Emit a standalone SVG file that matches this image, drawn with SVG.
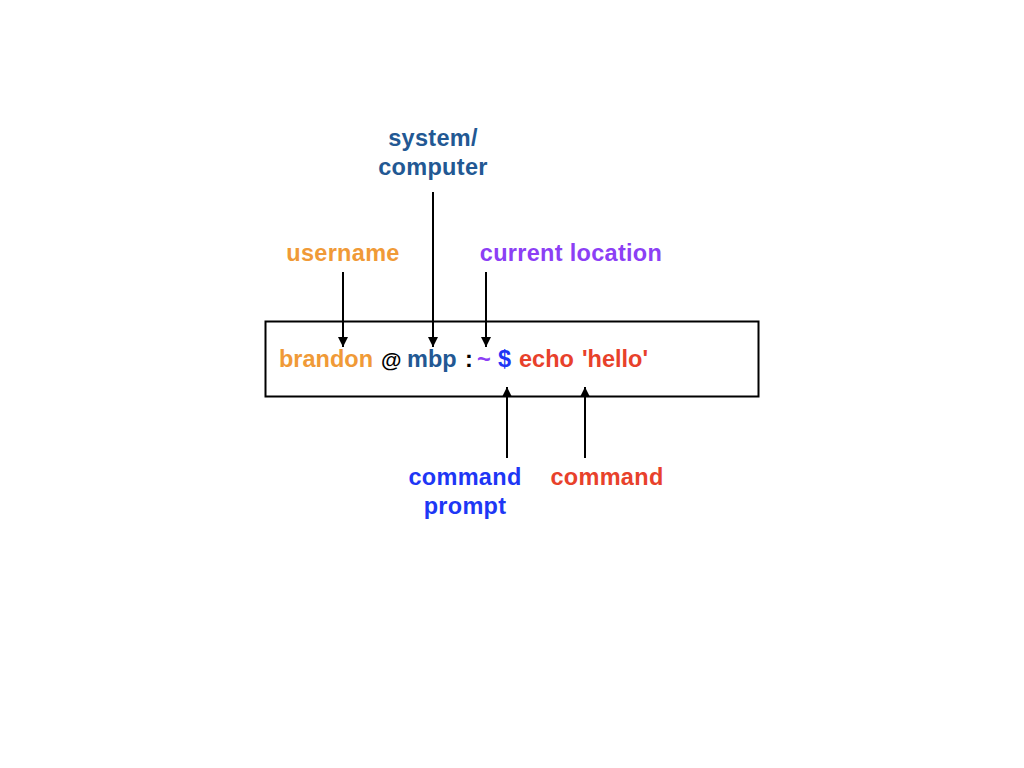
<svg xmlns="http://www.w3.org/2000/svg" width="1024" height="768" viewBox="0 0 1024 768">
<defs>
<style>
text{font-family:"Liberation Sans",Arial,sans-serif;font-weight:bold;font-size:23.5px}
.lbl{text-anchor:middle;font-size:23.5px;letter-spacing:0.3px}
.or{fill:#F09A37}.db{fill:#225893}.pu{fill:#8C3FF5}.bl{fill:#1E37F5}.rd{fill:#E8412B}.bk{fill:#000}
.ln{stroke:#000;stroke-width:2;fill:none}
</style>
<marker id="ah" viewBox="0 0 10 10" refX="10" refY="5" markerWidth="5.5" markerHeight="5" orient="auto" markerUnits="strokeWidth">
<path d="M0,0 L10,5 L0,10 z" fill="#000"/>
</marker>
</defs>
<rect width="1024" height="768" fill="#fff"/>
<g id="prompt-box">
<rect x="265.5" y="321.5" width="493" height="75" fill="none" stroke="#000" stroke-width="2"/>
<text y="367"><tspan class="or" x="279">brandon</tspan><tspan class="bk" x="381" style="font-size:21px">@</tspan><tspan class="db" x="407">mbp</tspan><tspan class="bk" x="465">:</tspan><tspan class="pu" x="477">~</tspan><tspan class="bl" x="498">$</tspan><tspan class="rd" x="519">echo</tspan><tspan class="rd" x="582">'hello'</tspan></text>
</g>
<g id="label-username"><text class="lbl or" x="343" y="261">username</text></g>
<g id="label-system"><text class="lbl db" x="433" y="146">system/</text><text class="lbl db" x="433" y="175">computer</text></g>
<g id="label-location"><text class="lbl pu" x="571" y="261">current location</text></g>
<g id="label-prompt"><text class="lbl bl" x="465" y="485">command</text><text class="lbl bl" x="465" y="514">prompt</text></g>
<g id="label-command"><text class="lbl rd" x="607" y="485">command</text></g>
<g id="connectors">
<line class="ln" x1="343" y1="272" x2="343" y2="347" marker-end="url(#ah)"/>
<line class="ln" x1="433" y1="192" x2="433" y2="347" marker-end="url(#ah)"/>
<line class="ln" x1="486" y1="272" x2="486" y2="347" marker-end="url(#ah)"/>
<line class="ln" x1="507" y1="458" x2="507" y2="387" marker-end="url(#ah)"/>
<line class="ln" x1="585" y1="458" x2="585" y2="387" marker-end="url(#ah)"/>
</g>
</svg>
